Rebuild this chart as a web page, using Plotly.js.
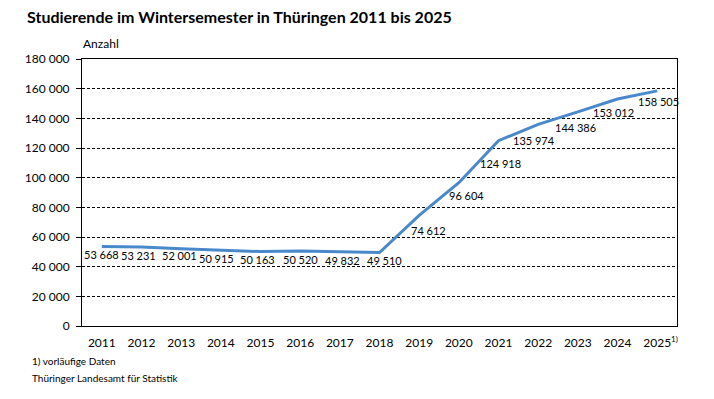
<!DOCTYPE html>
<html><head><meta charset="utf-8">
<script src="https://cdn.plot.ly/plotly-3.0.1.min.js"></script>
<style>html,body{margin:0;padding:0;background:#fff}#chart{width:714px;height:399px}</style>
</head><body><div id="chart"></div>
<script>
const years = ['2011','2012','2013','2014','2015','2016','2017','2018','2019','2020','2021','2022','2023','2024','2025'];
const tickLabels = ['2011','2012','2013','2014','2015','2016','2017','2018','2019','2020','2021','2022','2023','2024','2025'];
const students = [53668,53231,52001,50915,50163,50520,49832,49510,74612,96604,124918,135974,144386,153012,158505];
const yTicks = [0,20000,40000,60000,80000,100000,120000,140000,160000,180000];

const fmt = v => String(v).replace(/\B(?=(\d{3})+(?!\d))/g, ' ');
const FONT = 'Lato, "Noto Sans", sans-serif';

// label placement styling (pixel offsets of each value label from its point)
const labelDy = [8,8,7,8,8,8,8,8,15,13,23,16,16,13,11];
const labelDx = [0,-3,-2,-4,-3,0,3,5,9,8,2,-4,-2,-4,1];

const trace = {
  x: years, y: students, type: 'scatter', mode: 'lines',
  line: {color: '#4a88cc', width: 3},
  hoverinfo: 'skip'
};

// on a category axis, annotation x is the category's serial index
const valueLabels = years.map((yr, i) => ({
  x: years.indexOf(yr), y: students[i], xref: 'x', yref: 'y',
  text: fmt(students[i]), showarrow: false,
  xanchor: 'center', yanchor: 'middle',
  xshift: labelDx[i], yshift: -labelDy[i],
  font: {family: FONT, size: 11, color: '#000'}
}));

const layout = {
  width: 714, height: 399,
  margin: {l: 82, r: 37, t: 59, b: 73},
  paper_bgcolor: '#fff', plot_bgcolor: '#fff',
  showlegend: false,
  font: {family: FONT, size: 12, color: '#000'},
  title: {text: '<b>Studierende im Wintersemester in Thüringen 2011 bis 2025</b>', x: 27/714, xanchor: 'left', y: 1 - 17/399, yanchor: 'middle', font: {family: FONT, size: 16, color: '#000'}},
  xaxis: {
    type: 'category', tickvals: years, ticktext: tickLabels, range: [-0.5, 14.5],
    showline: true, mirror: true, linecolor: '#000', linewidth: 1,
    ticks: '', showgrid: false, ticklabelstandoff: 6, tickfont: {family: FONT, size: 12}, fixedrange: true
  },
  yaxis: {
    range: [0, 180000], tickvals: yTicks, ticktext: yTicks.map(fmt),
    showline: true, mirror: true, linecolor: '#000', linewidth: 1,
    ticks: 'outside', ticklen: 5, tickcolor: '#000', ticklabelstandoff: 4,
    showgrid: true, gridcolor: '#000', gridwidth: 1, griddash: '3px,2px',
    zeroline: false, tickfont: {family: FONT, size: 12}, fixedrange: true
  },
  annotations: valueLabels.concat([
    {text: '1)', xref: 'x', yref: 'paper', x: years.length - 1, y: 0, xanchor: 'left', yanchor: 'middle', xshift: 12, yshift: -13, showarrow: false, font: {family: FONT, size: 8}},
    {text: 'Anzahl', xref: 'paper', yref: 'paper', x: -1/595, y: 1, xanchor: 'left', yanchor: 'bottom', yshift: 6, showarrow: false, font: {family: FONT, size: 12}},
    {text: '1) vorläufige Daten', xref: 'paper', yref: 'paper', x: -52/595, y: -35/267, xanchor: 'left', yanchor: 'middle', showarrow: false, font: {family: FONT, size: 10}},
    {text: 'Thüringer Landesamt für Statistik', xref: 'paper', yref: 'paper', x: -52/595, y: -52/267, xanchor: 'left', yanchor: 'middle', showarrow: false, font: {family: FONT, size: 10}}
  ])
};

Plotly.newPlot('chart', [trace], layout, {displayModeBar: false, staticPlot: true});
</script></body></html>
